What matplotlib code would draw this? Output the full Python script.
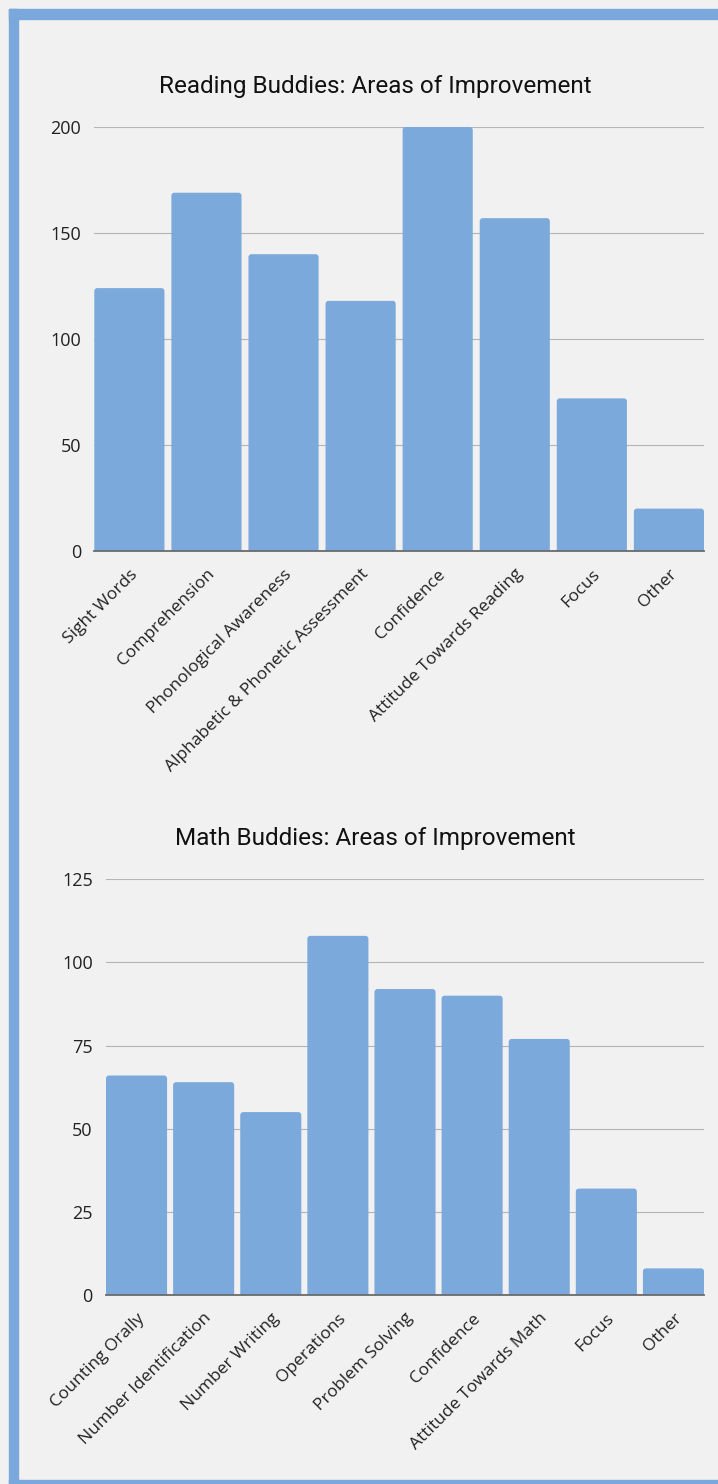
import matplotlib.pyplot as plt
from matplotlib.patches import Rectangle, FancyBboxPatch

# Reading Buddies
reading_labels = ["Sight Words", "Comprehension", "Phonological Awareness",
                  "Alphabetic & Phonetic Assessment", "Confidence",
                  "Attitude Towards Reading", "Focus", "Other"]
reading_values = [124, 169, 140, 118, 200, 157, 72, 20]
reading_ticks = [0, 50, 100, 150, 200]

# Math Buddies
math_labels = ["Counting Orally", "Number Identification", "Number Writing",
               "Operations", "Problem Solving", "Confidence",
               "Attitude Towards Math", "Focus", "Other"]
math_values = [66, 64, 55, 108, 92, 90, 77, 32, 8]
math_ticks = [0, 25, 50, 75, 100, 125]

bar_color = "#7ba9dc"
frame_color = "#7aa8dd"
bg = "#f1f1f1"

W, H = 718, 1484
fig = plt.figure(figsize=(W / 100, H / 100), dpi=100, facecolor=bg)

# blue frame (left, top, bottom edges)
for x, y, w, h in [(9, 9, 9, 1475), (9, 9, 709, 10), (9, 1480, 709, 4)]:
    fig.patches.append(Rectangle((x / W, 1 - (y + h) / H), w / W, h / H,
                                 transform=fig.transFigure, color=frame_color,
                                 zorder=0))


def draw(rect, labels, values, ticks, title, title_y):
    ax = fig.add_axes(rect)
    ax.set_facecolor("none")
    width = 0.91
    bars = ax.bar(range(len(values)), values, width=width, color=bar_color, zorder=2)
    ax.set_xlim(-width / 2, len(values) - 1 + width / 2)
    ax.set_ylim(0, ticks[-1])

    # round the top corners a little (~3 px)
    p0 = ax.transData.transform((0, 0))
    p1 = ax.transData.transform((1, 1))
    rx = 3 / (p1[0] - p0[0])
    ry = 3 / (p1[1] - p0[1])
    for b in bars:
        bx, bw, bh = b.get_x(), b.get_width(), b.get_height()
        b.set_visible(False)
        ax.add_patch(FancyBboxPatch((bx, -ry), bw, bh + ry,
                                    boxstyle=f"round,pad=0,rounding_size={rx}",
                                    mutation_aspect=ry / rx, facecolor=bar_color,
                                    edgecolor="none", zorder=2))

    ax.set_yticks(ticks)
    ax.yaxis.grid(True, color="#b4b4b4", linewidth=0.8, zorder=0)
    ax.set_axisbelow(True)
    for s in ["top", "right", "left"]:
        ax.spines[s].set_visible(False)
    ax.spines["bottom"].set_color("#6a6a6a")
    ax.spines["bottom"].set_linewidth(1.3)
    ax.spines["bottom"].set_zorder(3)
    ax.tick_params(axis="y", length=0, pad=9.5, labelsize=13, labelcolor="#222222")
    ax.tick_params(axis="x", length=0, pad=11)
    ax.set_xticks(range(len(labels)))
    ax.set_xticklabels(labels, rotation=45, ha="right", va="top",
                       rotation_mode="anchor", fontsize=12.5, color="#222222")
    for t in ax.get_yticklabels() + ax.get_xticklabels():
        t.set_fontfamily("Open Sans")
    fig.text(375 / W, 1 - title_y / H, title, ha="center", va="center",
             fontsize=17.5, family="Roboto", color="#111111")
    return ax


draw([94.3 / W, 1 - 551 / H, 609.7 / W, 424 / H], reading_labels,
     reading_values, reading_ticks, "Reading Buddies: Areas of Improvement", 86)
draw([106 / W, 1 - 1295 / H, 598 / W, 415.7 / H], math_labels,
     math_values, math_ticks, "Math Buddies: Areas of Improvement", 838)

fig.savefig("out.png", dpi=100, facecolor=bg)
